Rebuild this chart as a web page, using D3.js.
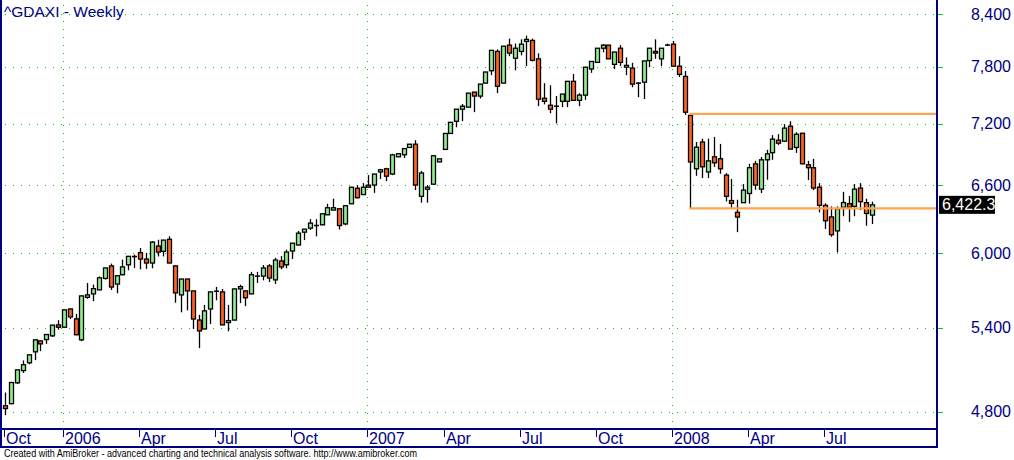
<!DOCTYPE html>
<html>
<head>
<meta charset="utf-8">
<script src="https://cdn.jsdelivr.net/npm/d3@7"></script>
<style>
html,body{margin:0;padding:0;background:#fff;}
svg{display:block;font-family:"Liberation Sans",Arial,sans-serif;}
</style>
</head>
<body>
<svg id="chart" width="1014" height="460"></svg>
<script>
// ---- data (weekly ^GDAXI, first bar = week ending 2005-10-28) ----
const firstWeek = "2005-10-28";
const open = [4839,4853,4998,5085,5141,5221,5302,5312,5340,5423,5405,5546,5469,5310,5638,5665,5697,5790,5893,5744,
5820,5902,5970,6004,5950,5917,6060,6015,6118,5893,5657,5785,5689,5460,5392,5546,5684,5681,5441,5460,
5705,5689,5665,5807,5809,5893,5778,5934,5902,6018,6069,6180,6215,6236,6244,6333,6375,6387,6252,6432,
6574,6516,6603,6604,6727,6757,6707,6872,6892,6963,6995,6500,6565,6612,6823,6944,7102,7225,7349,7370,
7528,7486,7624,7758,7972,7624,8043,7896,7972,8085,8096,7889,7463,7390,7378,7431,7431,7643,7441,7496,
7777,7850,8008,8043,7828,8008,7797,7787,7628,7634,7870,7972,7889,8040,8054,7808,7696,7285,6757,7017,
6727,6872,6853,6697,6461,6355,6442,6526,6804,6566,6843,6912,7035,7025,7175,6963,7104,6795,6767,6584,
6418,6314,6191,6400,6433,6409,6576,6442,6330];
const high = [4930,5005,5092,5158,5200,5312,5305,5352,5423,5459,5541,5548,5508,5651,5753,5740,5806,5878,5912,5814,
5945,5975,5987,6043,6002,6103,6114,6113,6144,5895,5787,5787,5691,5500,5578,5683,5721,5705,5578,5707,
5739,5692,5844,5844,5900,5908,5960,5975,6029,6087,6190,6208,6294,6294,6345,6432,6478,6390,6416,6586,
6603,6622,6697,6709,6757,6767,6901,6905,6955,6998,7035,6737,6603,6884,6854,7104,7216,7351,7403,7519,
7530,7615,7746,7986,7995,8033,8117,8061,8109,8151,8117,7950,7623,7600,7486,7509,7645,7722,7517,7799,
7862,8010,8054,8045,7967,8043,7906,7845,7632,7868,8010,8109,8010,8060,8090,7918,7756,7300,7017,7050,
7050,7067,6998,6716,6660,6469,6613,6804,6833,6870,6940,7085,7094,7196,7225,7114,7106,6833,6852,6622,
6436,6408,6408,6541,6503,6613,6622,6478,6451];
const low = [4775,4850,4990,5068,5130,5160,5226,5280,5332,5387,5403,5468,5345,5300,5626,5607,5695,5780,5697,5670,
5815,5857,5876,5865,5868,5873,5972,5972,5915,5595,5520,5535,5392,5248,5390,5430,5614,5421,5374,5458,
5592,5568,5663,5753,5774,5761,5745,5865,5873,5950,6065,6111,6199,6144,6240,6330,6375,6203,6240,6430,
6480,6514,6582,6532,6660,6640,6697,6870,6860,6960,6557,6442,6442,6610,6820,6940,7100,7164,7226,7368,
7318,7460,7622,7710,7517,7622,7918,7763,7928,7808,7860,7380,7399,7307,7203,7370,7370,7439,7380,7446,
7735,7848,7962,7887,7776,7808,7710,7580,7475,7455,7797,7889,7808,8035,7806,7690,7290,6390,6690,6669,
6669,6775,6710,6453,6395,6180,6440,6433,6560,6530,6653,6843,6988,7023,6945,6910,6802,6650,6557,6354,
6208,6140,6006,6320,6270,6320,6375,6236,6251];
const close = [4820,5000,5090,5127,5199,5310,5280,5350,5421,5405,5539,5484,5348,5649,5657,5707,5795,5876,5720,5812,
5885,5973,5972,5950,5917,6094,6009,6111,5917,5673,5785,5689,5468,5377,5531,5681,5688,5423,5456,5705,
5723,5634,5820,5810,5876,5793,5942,5884,6009,6085,6171,6206,6259,6240,6342,6396,6396,6238,6414,6584,
6487,6584,6584,6707,6747,6687,6891,6902,6952,6995,6604,6717,6584,6882,6852,7102,7214,7349,7380,7517,
7486,7613,7744,7984,7590,8031,7953,8008,8054,8108,7873,7453,7431,7349,7382,7507,7643,7441,7496,7797,
7860,8008,8043,7889,7965,7850,7817,7613,7620,7866,8008,7953,8008,8046,7808,7718,7318,6822,6966,6776,
6833,6814,6757,6500,6436,6313,6557,6767,6604,6843,6901,7045,7005,7155,6947,7094,6804,6767,6576,6418,
6280,6158,6386,6443,6400,6566,6451,6345,6422.3];

const xTickLabels = ["Oct","2006","Apr","Jul","Oct","2007","Apr","Jul","Oct","2008","Apr","Jul"];
const xTickWeeks  = ["2005-10-28","2006-01-06","2006-04-07","2006-07-07","2006-10-06","2007-01-05",
                     "2007-04-06","2007-07-06","2007-10-05","2008-01-04","2008-04-04","2008-07-04"];
const yTickValues = [4800,5400,6000,6600,7200,7800,8400];
const yTickLabels = ["4,800","5,400","6,000","6,600","7,200","7,800","8,400"];
const levelValues = [7300, 6390];
const levelStartWeek = "2008-01-25";
const titleText = "^GDAXI - Weekly";
const footerText = "Created with AmiBroker - advanced charting and technical analysis software. http://www.amibroker.com";

// ---- build ----
const parse = d3.timeParse("%Y-%m-%d");
const key = d3.timeFormat("%Y-%m-%d");
const start = parse(firstWeek);
const weeks = open.map((_, i) => key(d3.timeDay.offset(start, 7 * i)));
const bars = weeks.map((w, i) => ({w, o: open[i], h: high[i], l: low[i], c: close[i]}));

const navy = "#00007f";
const gridGreen = "#00cc00";
const upFill = "#90ee90";
const downFill = "#ff6420";

const plotL = 1, plotR = 937, plotT = 0, plotB = 429, axisB = 447;

const svg = d3.select("#chart");
svg.append("rect").attr("width", 1014).attr("height", 460).attr("fill", "#fff");

const x = d3.scaleBand().domain(weeks).range([2.4, 874.9]).paddingInner(0).paddingOuter(0);
const cx = w => x(w) + x.bandwidth() / 2;
const y = d3.scaleLog().domain([4800, 8400]).range([411.5, 14.3]);

const clipId = "plotclip";
svg.append("clipPath").attr("id", clipId).append("rect")
  .attr("x", plotL + 1).attr("y", plotT).attr("width", plotR - plotL - 2).attr("height", plotB - plotT - 1);

// grid
const grid = svg.append("g").attr("clip-path", `url(#${clipId})`).attr("shape-rendering", "crispEdges");
grid.selectAll("line.hg").data(yTickValues).join("line")
  .attr("x1", 5).attr("x2", plotR).attr("y1", d => Math.round(y(d)) + 0.5).attr("y2", d => Math.round(y(d)) + 0.5)
  .attr("stroke", gridGreen).attr("stroke-width", 1).attr("stroke-dasharray", "1,7");
const yearTicks = xTickLabels.map((t, i) => ({t, w: xTickWeeks[i]})).filter(d => /^\d{4}$/.test(d.t));
grid.selectAll("line.vg").data(yearTicks).join("line")
  .attr("x1", d => Math.round(cx(d.w)) - 0.5).attr("x2", d => Math.round(cx(d.w)) - 0.5)
  .attr("y1", 5).attr("y2", plotB)
  .attr("stroke", gridGreen).attr("stroke-width", 1).attr("stroke-dasharray", "1,7");

// candles
const cg = svg.append("g").attr("clip-path", `url(#${clipId})`);
const bw = 4;
const px = w => Math.round(cx(w)) + 0.5;
cg.selectAll("line.wick").data(bars).join("line")
  .attr("x1", d => px(d.w)).attr("x2", d => px(d.w))
  .attr("y1", d => y(d.h)).attr("y2", d => y(d.l))
  .attr("stroke", "#000").attr("stroke-width", 1.3);
cg.selectAll("rect.body").data(bars.filter(d => Math.abs(y(d.o) - y(d.c)) >= 1.2)).join("rect")
  .attr("x", d => px(d.w) - bw / 2).attr("width", bw)
  .attr("y", d => y(Math.max(d.o, d.c)))
  .attr("height", d => Math.abs(y(d.o) - y(d.c)))
  .attr("fill", d => d.c >= d.o ? upFill : downFill)
  .attr("stroke", "#000").attr("stroke-width", 1.3);
cg.selectAll("line.doji").data(bars.filter(d => Math.abs(y(d.o) - y(d.c)) < 1.2)).join("line")
  .attr("x1", d => px(d.w) - 2.5).attr("x2", d => px(d.w) + 2.5)
  .attr("y1", d => y((d.o + d.c) / 2)).attr("y2", d => y((d.o + d.c) / 2))
  .attr("stroke", "#000").attr("stroke-width", 1.5);

// level lines
svg.append("g").selectAll("line.lvl").data(levelValues).join("line")
  .attr("x1", cx(levelStartWeek) - 1).attr("x2", plotR)
  .attr("y1", d => y(d)).attr("y2", d => y(d))
  .attr("stroke", "#ffa552").attr("stroke-width", 2.2);

// frame
const fr = svg.append("g").attr("stroke", navy).attr("stroke-width", 2);
fr.append("line").attr("x1", 1).attr("x2", 1).attr("y1", 0).attr("y2", axisB + 1);
fr.append("line").attr("x1", plotR).attr("x2", plotR).attr("y1", 0).attr("y2", axisB + 1);
fr.append("line").attr("x1", 0).attr("x2", plotR + 1).attr("y1", plotB).attr("y2", plotB);
fr.append("line").attr("x1", 0).attr("x2", plotR + 1).attr("y1", axisB).attr("y2", axisB);

// right axis
const ra = svg.append("g");
ra.selectAll("line").data(yTickValues).join("line")
  .attr("x1", plotR + 1).attr("x2", plotR + 6)
  .attr("y1", d => Math.round(y(d)) + 0.5).attr("y2", d => Math.round(y(d)) + 0.5)
  .attr("stroke", gridGreen).attr("stroke-width", 1).attr("shape-rendering", "crispEdges");
ra.selectAll("text").data(yTickValues).join("text")
  .attr("x", 1011).attr("y", d => y(d) + 5.5)
  .attr("text-anchor", "end").attr("fill", navy).attr("font-size", 16)
  .text((d, i) => yTickLabels[i]);

// last price marker
const last = bars[bars.length - 1];
const ly = y(last.c);
svg.append("rect").attr("x", 939).attr("y", ly - 9).attr("width", 56).attr("height", 18).attr("fill", "#000");
svg.append("text").attr("x", 942).attr("y", ly + 5.5).attr("fill", "#fff").attr("font-size", 16)
  .text(d3.format(",.1f")(last.c));

// bottom axis
const ba = svg.append("g");
const ticks = xTickLabels.map((t, i) => ({t, w: xTickWeeks[i]}));
ba.selectAll("line").data(ticks).join("line")
  .attr("x1", d => Math.round(cx(d.w)) - 0.5).attr("x2", d => Math.round(cx(d.w)) - 0.5)
  .attr("y1", plotB).attr("y2", plotB + 8)
  .attr("stroke", navy).attr("stroke-width", 1);
ba.selectAll("text").data(ticks).join("text")
  .attr("x", d => Math.round(cx(d.w)) + 1).attr("y", 444)
  .attr("fill", navy).attr("font-size", 16)
  .text(d => d.t);

// title and footer
svg.append("text").attr("x", 4).attr("y", 17).attr("fill", navy).attr("font-size", 15.5).text(titleText);
svg.append("text").attr("x", 4).attr("y", 456.5).attr("fill", "#000").attr("font-size", 10.5)
  .attr("textLength", 413).attr("lengthAdjust", "spacingAndGlyphs").text(footerText);
</script>
</body>
</html>
